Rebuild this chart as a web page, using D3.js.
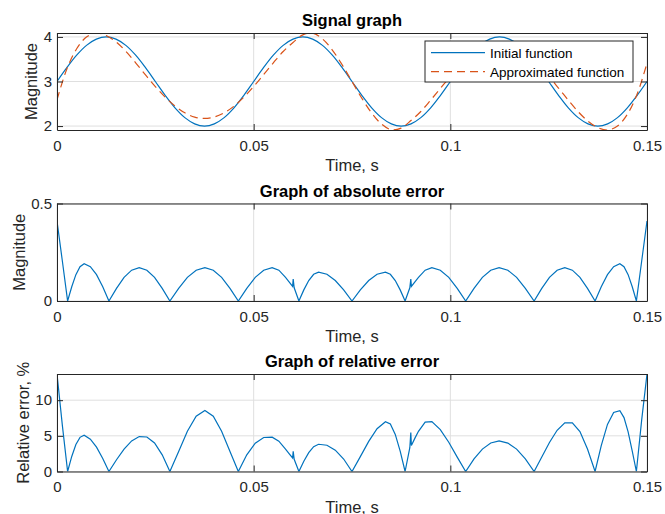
<!DOCTYPE html>
<html>
<head>
<meta charset="utf-8">
<script src="https://cdn.jsdelivr.net/npm/d3@7"></script>
<style>
body { margin: 0; background: #fff; }
text { font-family: "Liberation Sans", Arial, Helvetica, sans-serif; }
</style>
</head>
<body>
<script>
// signal samples
var sigTime = [0, 0.0025, 0.005, 0.0075, 0.01, 0.0125, 0.015, 0.0175, 0.02, 0.0225,
    0.025, 0.0275, 0.03, 0.0325, 0.035, 0.0375, 0.04, 0.0425, 0.045, 0.0475,
    0.05, 0.0525, 0.055, 0.0575, 0.06, 0.0625, 0.065, 0.0675, 0.07, 0.0725,
    0.075, 0.0775, 0.08, 0.0825, 0.085, 0.0875, 0.09, 0.0925, 0.095, 0.0975,
    0.1, 0.1025, 0.105, 0.1075, 0.11, 0.1125, 0.115, 0.1175, 0.12, 0.1225,
    0.125, 0.1275, 0.13, 0.1325, 0.135, 0.1375, 0.14, 0.1425, 0.145, 0.1475, 0.15];
var initialFn = [3, 3.31, 3.59, 3.81, 3.95, 4, 3.95, 3.81, 3.59, 3.31,
    3, 2.69, 2.41, 2.19, 2.05, 2, 2.05, 2.19, 2.41, 2.69,
    3, 3.31, 3.59, 3.81, 3.95, 4, 3.95, 3.81, 3.59, 3.31,
    3, 2.69, 2.41, 2.19, 2.05, 2, 2.05, 2.19, 2.41, 2.69,
    3, 3.31, 3.59, 3.81, 3.95, 4, 3.95, 3.81, 3.59, 3.31,
    3, 2.69, 2.41, 2.19, 2.05, 2, 2.05, 2.19, 2.41, 2.69, 3];
var approxFn = [2.59, 3.28, 3.735, 3.999, 4.088, 4.033, 3.89, 3.677, 3.42, 3.147,
    2.884, 2.65, 2.451, 2.297, 2.202, 2.171, 2.203, 2.297, 2.447, 2.648,
    2.888, 3.152, 3.417, 3.673, 3.876, 4.046, 4.083, 3.954, 3.706, 3.375,
    3.0, 2.625, 2.294, 2.046, 1.917, 1.954, 2.124, 2.327, 2.583, 2.848,
    3.112, 3.352, 3.553, 3.703, 3.797, 3.829, 3.798, 3.703, 3.549, 3.35,
    3.116, 2.853, 2.58, 2.323, 2.11, 1.967, 1.912, 2.001, 2.265, 2.72, 3.41];

// error samples
var errTime = [0, 0.00136, 0.0027,
    0.00375, 0.0048, 0.00585, 0.0069, 0.00848, 0.01005, 0.01163, 0.0132,
    0.01513, 0.01705, 0.01898, 0.0209, 0.02285, 0.0248, 0.02675, 0.0287,
    0.03093, 0.03315, 0.03538, 0.0376, 0.03973, 0.04185, 0.04398, 0.0461,
    0.04825, 0.0504, 0.05255, 0.0547, 0.0564, 0.0581, 0.059, 0.0599, 0.06005, 0.0603, 0.0615,
    0.06275, 0.064, 0.06525, 0.0665, 0.06863, 0.07075, 0.07288, 0.075,
    0.07712, 0.07925, 0.08137, 0.0835, 0.08475, 0.086, 0.08725, 0.0885,
    0.0897, 0.08995, 0.0901, 0.091, 0.0919, 0.0936, 0.0953, 0.09745, 0.0996, 0.10175, 0.1039,
    0.10602, 0.10815, 0.11027, 0.1124, 0.11462, 0.11685, 0.11907, 0.1213,
    0.12325, 0.1252, 0.12715, 0.1291, 0.13102, 0.13295, 0.13487, 0.1368,
    0.13837, 0.13995, 0.14152, 0.1431, 0.14415, 0.1452, 0.14625, 0.1473,
    0.14865, 0.15];
var absErr = [0.41, 0.205, 0,
    0.073, 0.135, 0.176, 0.191, 0.176, 0.135, 0.073, 0,
    0.065, 0.121, 0.158, 0.171, 0.158, 0.121, 0.065, 0,
    0.065, 0.121, 0.158, 0.171, 0.158, 0.121, 0.065, 0,
    0.065, 0.121, 0.158, 0.171, 0.158, 0.121, 0.098, 0.075, 0.112, 0.068, 0,
    0.057, 0.105, 0.137, 0.148, 0.137, 0.105, 0.057, 0,
    0.057, 0.105, 0.137, 0.148, 0.137, 0.105, 0.057, 0,
    0.068, 0.112, 0.075, 0.098, 0.121, 0.158, 0.171, 0.158, 0.121, 0.065, 0,
    0.065, 0.121, 0.158, 0.171, 0.158, 0.121, 0.065, 0,
    0.065, 0.121, 0.158, 0.171, 0.158, 0.121, 0.065, 0,
    0.073, 0.135, 0.176, 0.191, 0.176, 0.135, 0.073, 0,
    0.205, 0.41];
var relErr = [13.67, 6.47, 0,
    2.11, 3.78, 4.79, 5.08, 4.54, 3.42, 1.83, 0,
    1.65, 3.15, 4.29, 4.9, 4.84, 4.0, 2.34, 0,
    2.8, 5.64, 7.76, 8.55, 7.75, 5.64, 2.81, 0,
    2.34, 3.97, 4.77, 4.81, 4.25, 3.14, 2.51, 1.9, 2.83, 1.72, 0,
    1.43, 2.64, 3.48, 3.82, 3.68, 2.99, 1.75, 0,
    2.08, 4.22, 6.0, 6.97, 6.65, 5.2, 2.85, 0,
    3.34, 5.47, 3.65, 4.68, 5.63, 6.93, 7.0, 5.88, 4.1, 2.02, 0,
    1.76, 3.14, 3.99, 4.28, 3.98, 3.14, 1.77, 0,
    2.02, 4.07, 5.78, 6.82, 6.83, 5.6, 3.16, 0,
    3.64, 6.6, 8.28, 8.53, 7.56, 5.55, 2.87, 0,
    7.24, 13.67];

var xTicks = [0, 0.05, 0.1, 0.15];
var sigTicks = [2, 3, 4];
var absTicks = [0, 0.5];
var relTicks = [0, 5, 10];
var seriesNames = ['Initial function', 'Approximated function'];

function plot_it () {
    var width = 665, height = 514;
    var svg = d3.select('body').append('svg').attr('width', width).attr('height', height);

    var left = 57, right = 647;
    var axColor = '#262626', gridColor = '#dfdfdf';
    var blue = '#0072bd', orange = '#d95319';

    var x = d3.scaleLinear().domain([0, 0.15]).range([left, right]);

    function panel (id, top, bottom, yDomain, yTicks, title, ylabel, ylabelX) {
        var y = d3.scaleLinear().domain(yDomain).range([bottom, top]);
        var g = svg.append('g').attr('id', id);

        g.append('clipPath').attr('id', id + '-clip')
            .append('rect')
            .attr('x', left).attr('y', top)
            .attr('width', right - left).attr('height', bottom - top);

        // grid
        g.selectAll('.vgrid').data(xTicks).enter().append('line')
            .attr('class', 'vgrid')
            .attr('x1', function (d) { return x(d); })
            .attr('x2', function (d) { return x(d); })
            .attr('y1', top).attr('y2', bottom)
            .attr('stroke', gridColor);
        g.selectAll('.hgrid').data(yTicks).enter().append('line')
            .attr('class', 'hgrid')
            .attr('y1', function (d) { return y(d); })
            .attr('y2', function (d) { return y(d); })
            .attr('x1', left).attr('x2', right)
            .attr('stroke', gridColor);

        var plotArea = g.append('g').attr('clip-path', 'url(#' + id + '-clip)');

        // axes, ticks pointing inward on all four sides
        var fmt = function (d) { return String(d); };
        var bottomAx = g.append('g').attr('transform', 'translate(0,' + bottom + ')')
            .call(d3.axisBottom(x).tickValues(xTicks).tickFormat(fmt).tickSizeInner(-6).tickSizeOuter(0).tickPadding(10));
        var topAx = g.append('g').attr('transform', 'translate(0,' + top + ')')
            .call(d3.axisTop(x).tickValues(xTicks).tickFormat('').tickSizeInner(-6).tickSizeOuter(0));
        var leftAx = g.append('g').attr('transform', 'translate(' + left + ',0)')
            .call(d3.axisLeft(y).tickValues(yTicks).tickFormat(fmt).tickSizeInner(-6).tickSizeOuter(0).tickPadding(5));
        var rightAx = g.append('g').attr('transform', 'translate(' + right + ',0)')
            .call(d3.axisRight(y).tickValues(yTicks).tickFormat('').tickSizeInner(-6).tickSizeOuter(0));

        [bottomAx, topAx, leftAx, rightAx].forEach(function (a) {
            a.attr('font-family', null).attr('font-size', 15);
            a.selectAll('path').attr('stroke', axColor);
            a.selectAll('line').attr('stroke', axColor);
            a.selectAll('text').attr('fill', axColor);
        });

        g.append('text')
            .attr('x', (left + right) / 2).attr('y', top - 7)
            .attr('text-anchor', 'middle')
            .attr('font-size', 16.5).attr('font-weight', 'bold')
            .attr('fill', '#000')
            .text(title);

        g.append('text')
            .attr('x', (left + right) / 2).attr('y', bottom + 41)
            .attr('text-anchor', 'middle')
            .attr('font-size', 16.5).attr('fill', axColor)
            .text('Time, s');

        g.append('text')
            .attr('transform', 'translate(' + ylabelX + ',' + (top + bottom) / 2 + ') rotate(-90)')
            .attr('text-anchor', 'middle')
            .attr('font-size', 16.5).attr('fill', axColor)
            .text(ylabel);

        return { y: y, area: plotArea };
    }

    // top panel: signals
    var sigExtent = d3.extent(initialFn.concat(approxFn));
    var p1 = panel('signal', 33, 130, sigExtent, sigTicks, 'Signal graph', 'Magnitude', 37);

    var sigLine = d3.line()
        .x(function (d, i) { return x(sigTime[i]); })
        .y(function (d) { return p1.y(d); })
        .curve(d3.curveCatmullRom);

    p1.area.append('path').datum(initialFn)
        .attr('d', sigLine)
        .attr('fill', 'none').attr('stroke', blue).attr('stroke-width', 1.2);
    p1.area.append('path').datum(approxFn)
        .attr('d', sigLine)
        .attr('fill', 'none').attr('stroke', orange).attr('stroke-width', 1.2)
        .attr('stroke-dasharray', '8,5');

    // legend
    var lg = svg.append('g').attr('transform', 'translate(425,41)');
    lg.append('rect').attr('width', 208).attr('height', 41)
        .attr('fill', '#fff').attr('stroke', axColor);
    var item = lg.selectAll('.item').data(seriesNames).enter().append('g')
        .attr('class', 'item')
        .attr('transform', function (d, i) { return 'translate(0,' + (11.7 + i * 19) + ')'; });
    item.append('line')
        .attr('x1', 6).attr('x2', 60)
        .attr('stroke', function (d, i) { return i === 0 ? blue : orange; })
        .attr('stroke-width', 1.2)
        .attr('stroke-dasharray', function (d, i) { return i === 0 ? null : '8,5'; });
    item.append('text')
        .attr('x', 65).attr('y', 5)
        .attr('font-size', 13.5).attr('fill', '#000')
        .text(function (d) { return d; });

    // middle panel: absolute error
    var p2 = panel('abserr', 203.5, 301, [0, 0.5], absTicks, 'Graph of absolute error', 'Magnitude', 25);
    var absLine = d3.line()
        .x(function (d, i) { return x(errTime[i]); })
        .y(function (d) { return p2.y(d); });
    p2.area.append('path').datum(absErr)
        .attr('d', absLine)
        .attr('fill', 'none').attr('stroke', blue).attr('stroke-width', 1.2);

    // bottom panel: relative error
    var p3 = panel('relerr', 374, 471.5, [0, d3.max(relErr)], relTicks, 'Graph of relative error', 'Relative error, %', 29);
    var relLine = d3.line()
        .x(function (d, i) { return x(errTime[i]); })
        .y(function (d) { return p3.y(d); });
    p3.area.append('path').datum(relErr)
        .attr('d', relLine)
        .attr('fill', 'none').attr('stroke', blue).attr('stroke-width', 1.2);
}

plot_it();
</script>
</body>
</html>
